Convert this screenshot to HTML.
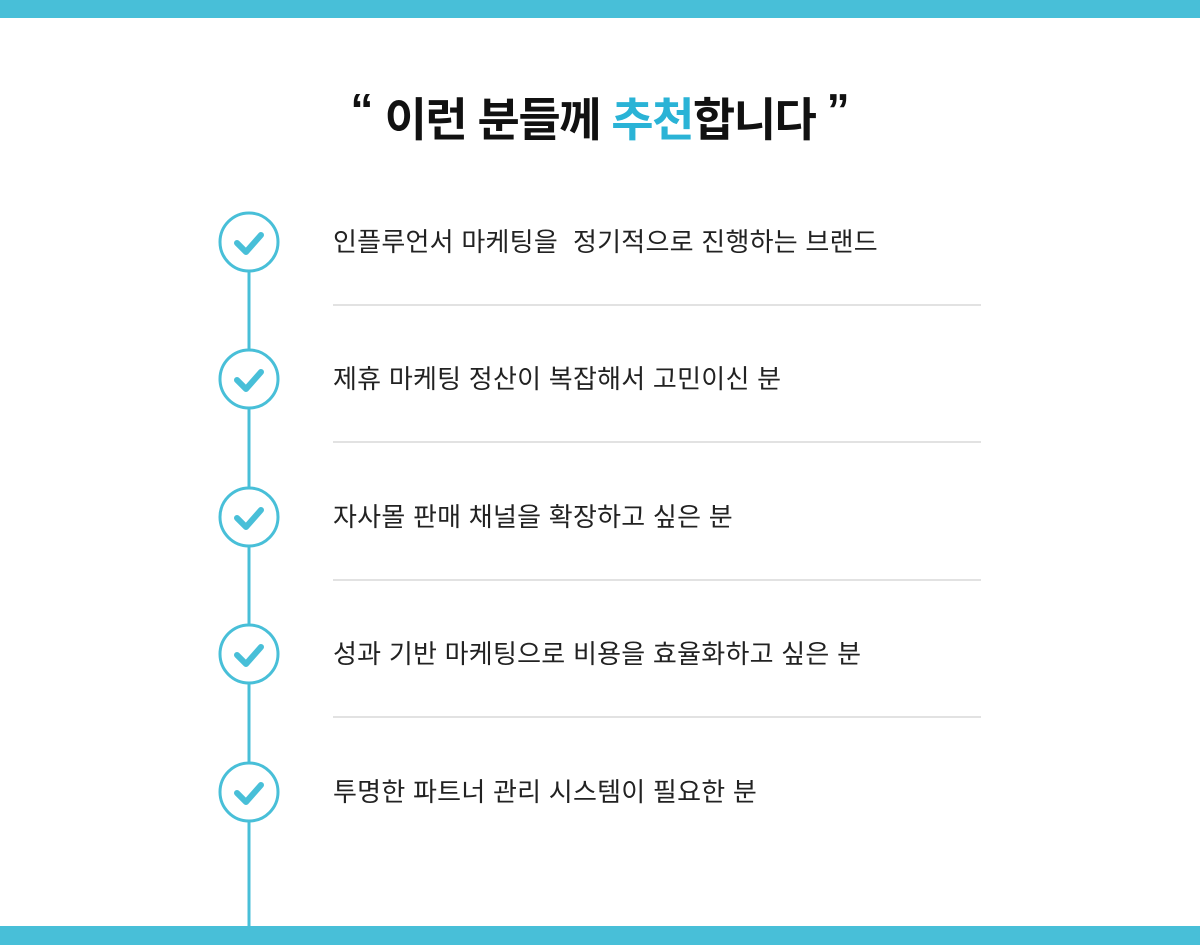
<!DOCTYPE html>
<html><head><meta charset="utf-8"><style>
html,body{margin:0;padding:0;background:#fff;}
body{width:1200px;height:945px;position:relative;overflow:hidden;font-family:"Liberation Sans","Noto Sans CJK KR",sans-serif;}
.bar{position:absolute;left:0;width:1200px;background:#48bfd8;}
.title{position:absolute;left:0;width:1200px;top:80px;text-align:center;font-size:46px;font-weight:bold;color:#111;letter-spacing:-1.5px;line-height:60px;white-space:nowrap;}
.title .q{font-size:46px;vertical-align:10px;letter-spacing:0;}
.title .b{color:#2ab3d6;}
.item{position:absolute;left:333px;font-size:26px;color:#222;line-height:30px;white-space:nowrap;letter-spacing:0.25px;}
.div{position:absolute;left:333px;width:648px;height:2px;background:#e2e2e2;}
svg{position:absolute;left:0;top:0;}
</style></head><body>
<div class="bar" style="top:0;height:18px"></div>
<div class="bar" style="top:926px;height:19px"></div>
<div class="title"><span class="q">“</span> 이런 분들께 <span class="b">추천</span>합니다 <span class="q">”</span></div>
<svg width="1200" height="945">
<line x1="249" y1="242" x2="249" y2="926" stroke="#48bfd8" stroke-width="3"/>
<g fill="#fff" stroke="#48bfd8" stroke-width="3">
<circle cx="249" cy="242" r="29"/><circle cx="249" cy="379" r="29"/><circle cx="249" cy="517" r="29"/><circle cx="249" cy="654" r="29"/><circle cx="249" cy="792" r="29"/>
</g>
<g fill="none" stroke="#48bfd8" stroke-width="6" stroke-linecap="round" stroke-linejoin="round">
<polyline points="237,243 246,252 261,235"/>
<polyline points="237,380 246,389 261,372"/>
<polyline points="237,518 246,527 261,510"/>
<polyline points="237,655 246,664 261,647"/>
<polyline points="237,793 246,802 261,785"/>
</g>
</svg>
<div class="item" style="top:227px">인플루언서 마케팅을&nbsp; 정기적으로 진행하는 브랜드</div>
<div class="div" style="top:304px"></div>
<div class="item" style="top:364px">제휴 마케팅 정산이 복잡해서 고민이신 분</div>
<div class="div" style="top:441px"></div>
<div class="item" style="top:502px">자사몰 판매 채널을 확장하고 싶은 분</div>
<div class="div" style="top:579px"></div>
<div class="item" style="top:639px">성과 기반 마케팅으로 비용을 효율화하고 싶은 분</div>
<div class="div" style="top:716px"></div>
<div class="item" style="top:777px">투명한 파트너 관리 시스템이 필요한 분</div>
</body></html>
